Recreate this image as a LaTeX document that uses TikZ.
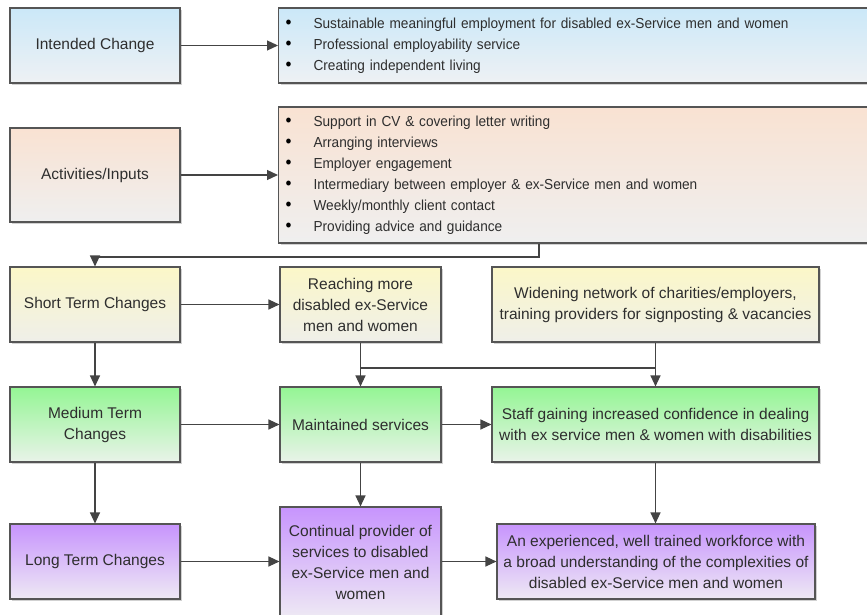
\documentclass[tikz,border=0pt]{standalone}
\usepackage{fontspec}
\setmainfont{Liberation Sans}
\newfontfamily\listfont[FakeStretch=0.94]{Liberation Sans}
\usetikzlibrary{arrows.meta,shadows}

\definecolor{edge}{HTML}{555555}
\definecolor{wire}{HTML}{444444}
\definecolor{ink}{HTML}{2E2E2E}
\definecolor{blueTop}{HTML}{CBE8F8}
\definecolor{blueBot}{HTML}{EEF1F4}
\definecolor{peachTop}{HTML}{F9E2D2}
\definecolor{peachBot}{HTML}{EFEFEF}
\definecolor{yelTop}{HTML}{FBF7C8}
\definecolor{yelBot}{HTML}{EFEFE9}
\definecolor{grnTop}{HTML}{94F594}
\definecolor{grnBot}{HTML}{E9F3E9}
\definecolor{purTop}{HTML}{C794FD}
\definecolor{purBot}{HTML}{EEE9F4}

\newcommand\bul[1]{\makebox[28pt][l]{\textcolor{black}{\fontsize{18}{21}\selectfont\textbullet}}#1}

\tikzset{
  box/.style={rectangle, draw=edge, line width=1.1pt, align=center, text=ink,
    inner sep=4pt, font=\fontsize{15.5}{21}\selectfont,
    drop shadow={shadow xshift=2pt, shadow yshift=-2pt, fill=black, opacity=0.18}},
  blue/.style={box, top color=blueTop, bottom color=blueBot},
  peach/.style={box, top color=peachTop, bottom color=peachBot},
  yel/.style={box, top color=yelTop, bottom color=yelBot},
  grn/.style={box, top color=grnTop, bottom color=grnBot},
  pur/.style={box, top color=purTop, bottom color=purBot},
  listbox/.style={anchor=west, text width=578pt, inner xsep=7pt, align=left,
    minimum width=592pt, font=\listfont\fontsize{14.5}{21}\selectfont, text=ink},
  arr/.style={draw=wire, line width=1.2pt, -{Triangle[length=11pt,width=10pt]}},
  wireline/.style={draw=wire, line width=1.2pt},
}

\begin{document}
\begin{tikzpicture}[x=1pt, y=-1pt]
\useasboundingbox (0,0) rectangle (867,615);
\fill[white] (0,0) rectangle (867,615);
\clip (0,0) rectangle (867,615);

% left column of stages
\node[blue, minimum width=170pt, minimum height=75pt] (ic) at (95,45.5) {Intended Change};
\node[peach, minimum width=170pt, minimum height=94pt] (ai) at (95,175) {Activities/Inputs};
\node[yel, minimum width=170pt, minimum height=75pt] (st) at (95,304.5) {Short Term Changes};
\node[grn, minimum width=170pt, minimum height=75pt] (mt) at (95,424.5) {Medium Term\\Changes};
\node[pur, minimum width=170pt, minimum height=75pt] (lt) at (95,561.5) {Long Term Changes};

% bullet lists
\node[blue, listbox, minimum height=75pt] (icl) at (278,45.5)
  {\bul{Sustainable meaningful employment for disabled ex-Service men and women}\\
   \bul{Professional employability service}\\
   \bul{Creating independent living}};
\node[peach, listbox, minimum height=136pt] (ail) at (278,175)
  {\bul{Support in CV \& covering letter writing}\\
   \bul{Arranging interviews}\\
   \bul{Employer engagement}\\
   \bul{Intermediary between employer \& ex-Service men and women}\\
   \bul{Weekly/monthly client contact}\\
   \bul{Providing advice and guidance}};

% middle column
\node[yel, minimum width=161pt, minimum height=75pt] (reach) at (360.5,304.5)
  {Reaching more\\disabled ex-Service\\men and women};
\node[grn, minimum width=161pt, minimum height=75pt] (maint) at (360.5,424.5)
  {Maintained services};
\node[pur, minimum width=161pt, minimum height=110pt] (cont) at (360.5,562)
  {Continual provider of\\services to disabled\\ex-Service men and\\women};

% right column
\node[yel, minimum width=327pt, minimum height=75pt] (widen) at (655.5,304.5)
  {Widening network of charities/employers,\\training providers for signposting \& vacancies};
\node[grn, minimum width=327pt, minimum height=75pt] (staff) at (655.5,424.5)
  {Staff gaining increased confidence in dealing\\with ex service men \& women with disabilities};
\node[pur, minimum width=318pt, minimum height=75pt] (exp) at (656,561.5)
  {An experienced, well trained workforce with\\a broad understanding of the complexities of\\disabled ex-Service men and women};

% junction points
\coordinate (drop) at (539,257);
\coordinate (merge) at (0,368);

% connectors
\draw[arr] (ic.east) -- (icl.west);
\draw[arr] (ai.east) -- (ail.west);
\draw[arr] (ail.south -| drop) -- (drop) -| (st.north);
\draw[arr] (st.east) -- (reach.west);
\draw[arr] (st.south) -- (mt.north);
\draw[arr] (mt.south) -- (lt.north);
\draw[arr] (reach.south) -- (maint.north);
\draw[arr] (widen.south) -- (staff.north);
\draw[wireline] (reach.south |- merge) -- (widen.south |- merge);
\draw[arr] (mt.east) -- (maint.west);
\draw[arr] (maint.east) -- (staff.west);
\draw[arr] (maint.south) -- (cont.north);
\draw[arr] (staff.south) -- (staff.south |- exp.north);
\draw[arr] (lt.east) -- (cont.west |- lt.east);
\draw[arr] (cont.east |- exp.west) -- (exp.west);
\end{tikzpicture}
\end{document}
